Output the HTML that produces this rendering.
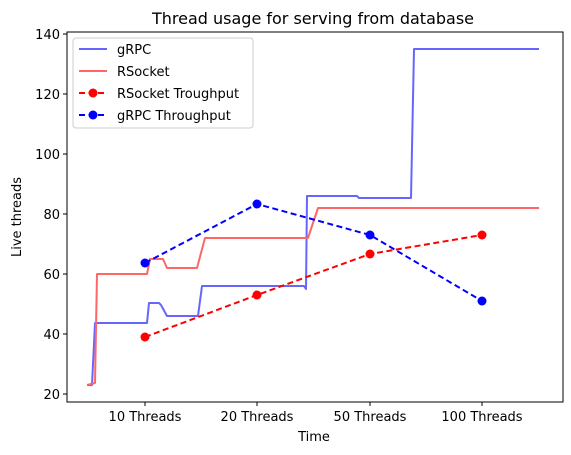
<!DOCTYPE html>
<html><head><style>body{margin:0;background:#fff}svg{display:block;font-family:"DejaVu Sans","Liberation Sans",sans-serif}</style></head><body>
<svg width="571" height="455" viewBox="0 0 571 455" xmlns="http://www.w3.org/2000/svg">
<rect width="571" height="455" fill="#fff"/>
<text x="313" y="24" font-size="16" text-anchor="middle">Thread usage for serving from database</text>
<g fill="none" stroke-width="2" stroke-linejoin="round">
<polyline stroke="#6666ff" points="87,385 92,385 95,323 147,323 149,303 159,303 161,305 167,316 198,316 202,286 304,286 306,289 307,196 357,196 359,198 411,198 414,49 539,49"/>
<polyline stroke="#ff6666" points="87,385 95,383 97,274 147,274 150,259 163,259 167,268 197,268 205,238 308,238 318,208 539,208"/>
<polyline stroke="#ff0000" stroke-dasharray="6,3.5" points="145,337 257,295 370,254 482,235"/>
<polyline stroke="#0000ff" stroke-dasharray="6,3.5" points="145,263 257,204 370,235 482,301"/>
</g>
<g fill="#ff0000"><circle cx="145" cy="337" r="4.5"/><circle cx="257" cy="295" r="4.5"/><circle cx="370" cy="254" r="4.5"/><circle cx="482" cy="235" r="4.5"/></g>
<g fill="#0000ff"><circle cx="145" cy="263" r="4.5"/><circle cx="257" cy="204" r="4.5"/><circle cx="370" cy="235" r="4.5"/><circle cx="482" cy="301" r="4.5"/></g>
<rect x="67" y="32" width="496" height="370" fill="none" stroke="#000" stroke-width="1"/>
<g stroke="#000" stroke-width="1">
<line x1="63" y1="34" x2="67" y2="34"/><line x1="63" y1="94" x2="67" y2="94"/><line x1="63" y1="154" x2="67" y2="154"/><line x1="63" y1="214" x2="67" y2="214"/><line x1="63" y1="274" x2="67" y2="274"/><line x1="63" y1="334" x2="67" y2="334"/><line x1="63" y1="394" x2="67" y2="394"/>
<line x1="145" y1="402" x2="145" y2="406"/><line x1="257" y1="402" x2="257" y2="406"/><line x1="370" y1="402" x2="370" y2="406"/><line x1="482" y1="402" x2="482" y2="406"/>
</g>
<g font-size="13" text-anchor="end">
<text x="60" y="39">140</text><text x="60" y="99">120</text><text x="60" y="159">100</text><text x="60" y="219">80</text><text x="60" y="279">60</text><text x="60" y="339">40</text><text x="60" y="399">20</text>
</g>
<g font-size="13" text-anchor="middle">
<text x="145" y="421">10 Threads</text><text x="257" y="421">20 Threads</text><text x="370" y="421">50 Threads</text><text x="482" y="421">100 Threads</text>
<text x="314" y="441">Time</text>
</g>
<text transform="translate(21,217) rotate(-90)" font-size="13" text-anchor="middle">Live threads</text>
<rect x="73" y="38" width="180" height="90" rx="3" fill="#fff" fill-opacity="0.8" stroke="#ccc"/>
<g stroke-width="2" fill="none">
<line x1="79" y1="49" x2="107" y2="49" stroke="#6666ff"/>
<line x1="79" y1="71" x2="107" y2="71" stroke="#ff6666"/>
<line x1="79" y1="93" x2="107" y2="93" stroke="#ff0000" stroke-dasharray="6,3.5"/>
<line x1="79" y1="115" x2="107" y2="115" stroke="#0000ff" stroke-dasharray="6,3.5"/>
</g>
<circle cx="93" cy="93" r="4.5" fill="#ff0000"/><circle cx="93" cy="115" r="4.5" fill="#0000ff"/>
<g font-size="13">
<text x="117" y="54">gRPC</text><text x="117" y="76">RSocket</text><text x="117" y="98">RSocket Troughput</text><text x="117" y="120">gRPC Throughput</text>
</g>
</svg>
</body></html>
